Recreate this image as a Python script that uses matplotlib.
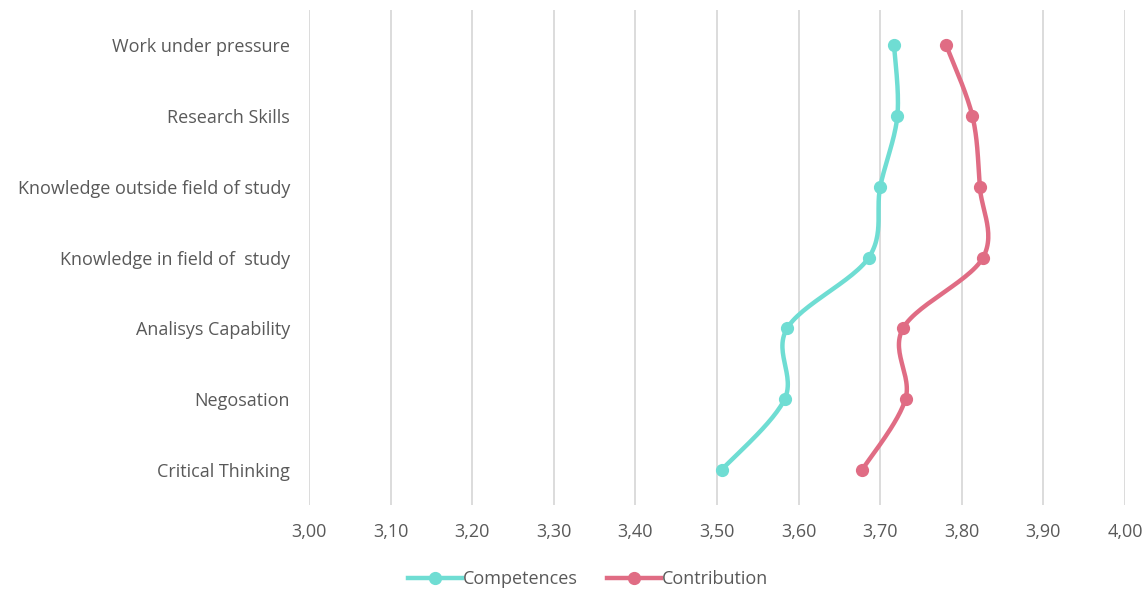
import numpy as np
import matplotlib
matplotlib.use("Agg")
import matplotlib.pyplot as plt
from matplotlib.lines import Line2D

categories = ["Work under pressure", "Research Skills", "Knowledge outside field of study",
              "Knowledge in field of  study", "Analisys Capability", "Negosation", "Critical Thinking"]
competences = [3.717, 3.721, 3.700, 3.686, 3.586, 3.583, 3.506]
contribution = [3.781, 3.813, 3.822, 3.826, 3.728, 3.731, 3.678]
xticks = [3.00, 3.10, 3.20, 3.30, 3.40, 3.50, 3.60, 3.70, 3.80, 3.90, 4.00]

TEAL = "#6FDDD3"
PINK = "#E06C84"
TXT = "#595959"

plt.rcParams['font.family'] = ['Open Sans', 'DejaVu Sans']

def smooth(xs, ys, n=30):
    # Catmull-Rom style smoothing for drawing (Excel "smoothed line")
    pts = np.column_stack([xs, ys]).astype(float)
    P = np.vstack([pts[0], pts, pts[-1]])
    out = []
    for i in range(1, len(P) - 2):
        p0, p1, p2, p3 = P[i - 1], P[i], P[i + 1], P[i + 2]
        c1 = p1 + (p2 - p0) / 6.0
        c2 = p2 - (p3 - p1) / 6.0
        t = np.linspace(0, 1, n)[:, None]
        seg = ((1 - t) ** 3) * p1 + 3 * ((1 - t) ** 2) * t * c1 + 3 * (1 - t) * t ** 2 * c2 + t ** 3 * p2
        out.append(seg if i == 1 else seg[1:])
    out = np.vstack(out)
    return out[:, 0], out[:, 1]

fig = plt.figure(figsize=(11.46, 5.92), dpi=100)
ax = fig.add_axes([0.2696, 0.147, 0.7121, 0.836])

ypos = np.arange(len(categories))

def draw(vals, color):
    xs = np.array(vals)
    sx, sy = smooth(xs * 8.16, ypos * 0.707)
    ax.plot(sx / 8.16, sy / 0.707, color=color, lw=3.2, solid_capstyle='round', zorder=3)
    ax.plot(xs, ypos, 'o', color=color, ms=8.5, zorder=4)

draw(competences, TEAL)
draw(contribution, PINK)

ax.set_xlim(3.0, 4.0)
ax.set_ylim(6.5, -0.5)
ax.set_xticks(xticks)
ax.set_xticklabels([f"{v:.2f}".replace(".", ",") for v in xticks])
ax.set_yticks(ypos)
ax.set_yticklabels(categories)
ax.tick_params(axis='both', length=0, labelsize=13, labelcolor=TXT)
ax.tick_params(axis='x', pad=13)
ax.tick_params(axis='y', pad=13.5)
ax.grid(axis='x', color='#D9D9D9', lw=1.3)
ax.set_axisbelow(True)
for s in ax.spines.values():
    s.set_visible(False)

handles = [Line2D([0], [0], color=TEAL, lw=3.2, marker='o', ms=8.5),
           Line2D([0], [0], color=PINK, lw=3.2, marker='o', ms=8.5)]
fig.legend(handles, ["Competences", "Contribution"], loc='center', bbox_to_anchor=(0.513, 0.022),
           ncol=2, frameon=False, fontsize=13, labelcolor=TXT, handlelength=3.0,
           handletextpad=0.05, columnspacing=1.6)

fig.savefig("out.png", dpi=100)
